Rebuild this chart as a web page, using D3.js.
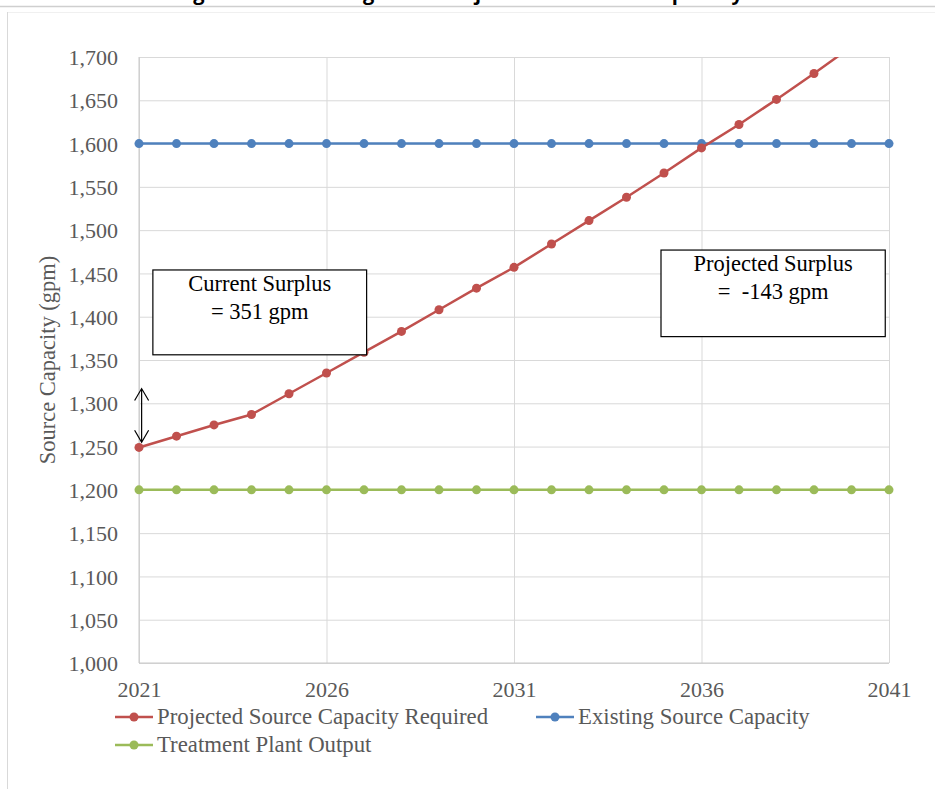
<!DOCTYPE html>
<html>
<head>
<meta charset="utf-8">
<script src="https://cdn.jsdelivr.net/npm/d3@7"></script>
<style>
  body { margin: 0; background: #fff; }
  svg { display: block; }
</style>
</head>
<body>
<div class="chart"></div>
<script>
// DATA
const YEARS = d3.range(2021, 2042);
const REQUIRED = [1249, 1262, 1275, 1287, 1311, 1335, 1359, 1383, 1408, 1433, 1457,
                  1484, 1511, 1538, 1566, 1595, 1622, 1651, 1681, 1712, 1743];
const EXISTING = [1600, 1600, 1600, 1600, 1600, 1600, 1600, 1600, 1600, 1600, 1600,
                  1600, 1600, 1600, 1600, 1600, 1600, 1600, 1600, 1600, 1600];
const TREATMENT = [1200, 1200, 1200, 1200, 1200, 1200, 1200, 1200, 1200, 1200, 1200,
                   1200, 1200, 1200, 1200, 1200, 1200, 1200, 1200, 1200, 1200];
const SERIES_NAMES = ["Projected Source Capacity Required", "Existing Source Capacity", "Treatment Plant Output"];
const X_TICKS = [2021, 2026, 2031, 2036, 2041];
const Y_TICKS = d3.range(1000, 1701, 50);
const TITLE = "Figure 4: Existing and Projected Source Capacity";
const Y_TITLE = "Source Capacity (gpm)";
const NOTE_CURRENT = ["Current Surplus", "= 351 gpm"];
const NOTE_PROJECTED = ["Projected Surplus", "=  -143 gpm"];

// GLOBAL CONSTANTS
const FRAME_WIDTH = 935;
const FRAME_HEIGHT = 789;
const PLOT = {left: 139, right: 889, top: 57, bottom: 663};
const COLORS = ["#C0504D", "#4F81BD", "#9BBB59"];
const SERIF = "'Liberation Serif', 'Times New Roman', serif";
const TEXT_GRAY = "#595959";

const FRAME = d3.select(".chart")
  .append("svg")
    .attr("width", FRAME_WIDTH)
    .attr("height", FRAME_HEIGHT);

const X_SCALE = d3.scaleLinear().domain([2021, 2041]).range([PLOT.left, PLOT.right]);
const Y_SCALE = d3.scaleLinear().domain([1000, 1700]).range([PLOT.bottom, PLOT.top]);

// page title (cut off at the top of the picture, as in the source) and chart frame
FRAME.append("text")
  .attr("x", 172)
  .attr("y", -0.5)
  .attr("textLength", 571)
  .attr("font-family", "'Open Sans', 'Liberation Sans', sans-serif")
  .attr("font-weight", 700)
  .attr("font-size", 20)
  .attr("fill", "#000")
  .text(TITLE);

FRAME.append("line")
  .attr("x1", 0).attr("x2", FRAME_WIDTH)
  .attr("y1", 6.5).attr("y2", 6.5)
  .attr("stroke", "#cfcfcf").attr("stroke-width", 1.5);

FRAME.append("line")
  .attr("x1", 7.5).attr("x2", FRAME_WIDTH)
  .attr("y1", 12.5).attr("y2", 12.5)
  .attr("stroke", "#f0f0f0");

FRAME.append("line")
  .attr("x1", 7.5).attr("x2", 7.5)
  .attr("y1", 12).attr("y2", FRAME_HEIGHT)
  .attr("stroke", "#d9d9d9");

// GRIDLINES
FRAME.append("g")
  .attr("transform", "translate(" + PLOT.left + ",0)")
  .call(d3.axisLeft(Y_SCALE).tickValues(Y_TICKS).tickSize(-(PLOT.right - PLOT.left)).tickFormat(""))
  .call(g => g.select(".domain").remove())
  .selectAll("line")
    .attr("stroke", "#d9d9d9");

FRAME.append("g")
  .attr("transform", "translate(0," + PLOT.bottom + ")")
  .call(d3.axisBottom(X_SCALE).tickValues(X_TICKS).tickSize(-(PLOT.bottom - PLOT.top)).tickFormat(""))
  .call(g => g.select(".domain").remove())
  .selectAll("line")
    .attr("stroke", "#d9d9d9");

// axis lines
FRAME.append("line")
  .attr("x1", X_SCALE(2021)).attr("x2", X_SCALE(2021))
  .attr("y1", Y_SCALE(1700)).attr("y2", Y_SCALE(1000))
  .attr("stroke", "#c8c8c8");
FRAME.append("line")
  .attr("x1", X_SCALE(2021)).attr("x2", X_SCALE(2041))
  .attr("y1", Y_SCALE(1000)).attr("y2", Y_SCALE(1000))
  .attr("stroke", "#c8c8c8");

// Y AXIS LABELS
FRAME.append("g")
  .attr("transform", "translate(" + (PLOT.left - 21) + ",0)")
  .call(d3.axisLeft(Y_SCALE).tickValues(Y_TICKS).tickSize(0).tickFormat(d3.format(",")))
  .call(g => g.select(".domain").remove())
  .selectAll("text")
    .attr("x", 0)
    .attr("dy", "0.35em")
    .attr("font-family", SERIF)
    .attr("font-size", 22)
    .attr("fill", TEXT_GRAY);

// X AXIS LABELS
FRAME.append("g")
  .attr("transform", "translate(0," + PLOT.bottom + ")")
  .call(d3.axisBottom(X_SCALE).tickValues(X_TICKS).tickSize(0).tickFormat(d3.format("d")))
  .call(g => g.select(".domain").remove())
  .selectAll("text")
    .attr("y", 0)
    .attr("dy", 34)
    .attr("font-family", SERIF)
    .attr("font-size", 22)
    .attr("fill", TEXT_GRAY);

FRAME.append("text")
  .attr("transform", "translate(55," + ((PLOT.top + PLOT.bottom) / 2) + ") rotate(-90)")
  .attr("text-anchor", "middle")
  .attr("font-family", SERIF)
  .attr("font-size", 22.5)
  .attr("fill", TEXT_GRAY)
  .text(Y_TITLE);

// SERIES
FRAME.append("clipPath")
  .attr("id", "plot-clip")
  .append("rect")
    .attr("x", 0).attr("y", PLOT.top)
    .attr("width", FRAME_WIDTH).attr("height", FRAME_HEIGHT - PLOT.top);

const SERIES = [REQUIRED, EXISTING, TREATMENT].map((vals, i) => ({
  name: SERIES_NAMES[i],
  color: COLORS[i],
  points: YEARS.map((yr, j) => ({year: yr, value: vals[j]}))
}));

const LINE = d3.line()
  .x(d => X_SCALE(d.year))
  .y(d => Y_SCALE(d.value));

const SERIES_G = FRAME.append("g").attr("clip-path", "url(#plot-clip)");

// draw green first, then blue, then red on top
[2, 1, 0].forEach(i => {
  const s = SERIES[i];
  SERIES_G.append("path")
    .datum(s.points)
    .attr("d", LINE)
    .attr("fill", "none")
    .attr("stroke", s.color)
    .attr("stroke-width", 2.5);

  SERIES_G.selectAll(".dot" + i)
    .data(s.points)
    .enter()
    .append("circle")
      .attr("cx", d => X_SCALE(d.year))
      .attr("cy", d => Y_SCALE(d.value))
      .attr("r", 4.5)
      .attr("fill", s.color);
});

// ANNOTATIONS
function noteBox(x0, x1, v0, v1, lines, firstBase) {
  FRAME.append("rect")
    .attr("x", X_SCALE(x0)).attr("y", Y_SCALE(v0))
    .attr("width", X_SCALE(x1) - X_SCALE(x0))
    .attr("height", Y_SCALE(v1) - Y_SCALE(v0))
    .attr("fill", "#fff")
    .attr("stroke", "#000")
    .attr("stroke-width", 1.2);
  lines.forEach((t, k) => {
    FRAME.append("text")
      .attr("x", (X_SCALE(x0) + X_SCALE(x1)) / 2)
      .attr("y", Y_SCALE(v0) + firstBase + k * 28)
      .attr("text-anchor", "middle")
      .attr("font-family", SERIF)
      .attr("font-size", 22.5)
      .attr("fill", "#000")
      .style("white-space", "pre")
      .text(t);
  });
}

noteBox(2021.37, 2027.07, 1454, 1356, NOTE_CURRENT, 21);
noteBox(2034.92, 2040.9, 1477, 1377, NOTE_PROJECTED, 21);

// double arrow for current surplus
const AX = X_SCALE(2021.07);
const AY0 = Y_SCALE(1317);
const AY1 = Y_SCALE(1255);
FRAME.append("path")
  .attr("d", "M" + AX + "," + AY0 + "L" + AX + "," + AY1 +
             "M" + (AX - 7) + "," + (AY0 + 12) + "L" + AX + "," + AY0 + "L" + (AX + 7) + "," + (AY0 + 12) +
             "M" + (AX - 7) + "," + (AY1 - 12) + "L" + AX + "," + AY1 + "L" + (AX + 7) + "," + (AY1 - 12))
  .attr("fill", "none")
  .attr("stroke", "#000")
  .attr("stroke-width", 1.2);

// LEGEND
const LEGEND_POS = [{x: 115, y: 717}, {x: 536, y: 717}, {x: 115, y: 745}];
SERIES.forEach((s, i) => {
  const p = LEGEND_POS[i];
  const g = FRAME.append("g").attr("transform", "translate(" + p.x + "," + p.y + ")");
  g.append("line")
    .attr("x1", 0).attr("x2", 38)
    .attr("stroke", s.color).attr("stroke-width", 2.5);
  g.append("circle")
    .attr("cx", 19).attr("r", 4.5)
    .attr("fill", s.color);
  g.append("text")
    .attr("x", 42).attr("y", 7)
    .attr("font-family", SERIF)
    .attr("font-size", 22.8)
    .attr("fill", TEXT_GRAY)
    .text(s.name);
});
</script>
</body>
</html>
